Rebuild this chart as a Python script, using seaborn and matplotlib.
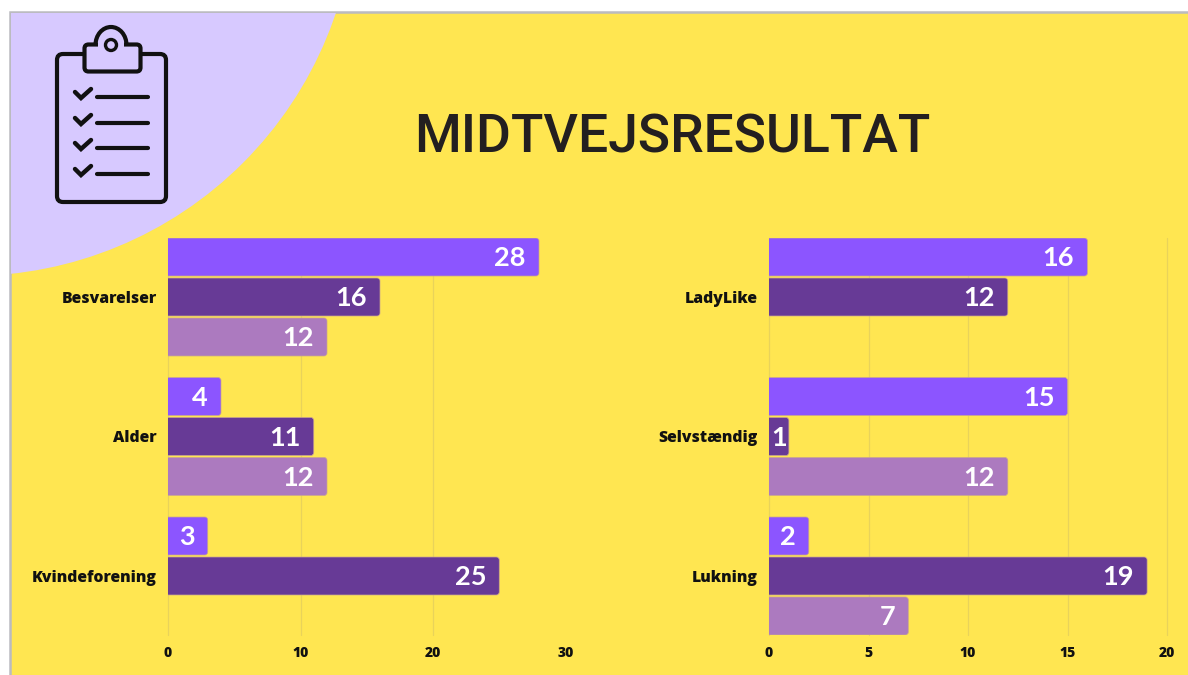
import matplotlib
matplotlib.use("Agg")
import matplotlib.pyplot as plt
import pandas as pd
import seaborn as sns
from matplotlib.patches import Arc, Circle, FancyBboxPatch, Rectangle

W, H = 1188, 675

# data (0 = no bar drawn)
left_categories = ["Besvarelser", "Alder", "Kvindeforening"]
left_first = [28, 4, 3]
left_second = [16, 11, 25]
left_third = [12, 12, 0]

right_categories = ["LadyLike", "Selvstændig", "Lukning"]
right_first = [16, 15, 2]
right_second = [12, 1, 19]
right_third = [0, 12, 7]

series_names = ["first", "second", "third"]
left_ticks = [0, 10, 20, 30]
right_ticks = [0, 5, 10, 15, 20]

YELLOW = "#FFE651"
LAVENDER = "#D7C9FF"
INK = "#111111"
palette = ["#8C55FF", "#673A96", "#AC7ABF"]

sns.set_theme(style="white")
plt.rcParams["font.family"] = ["Open Sans", "DejaVu Sans"]


def long_table(categories, first, second, third):
    frames = []
    for name, values in zip(series_names, [first, second, third]):
        frames.append(pd.DataFrame({"category": categories, "series": name, "value": values}))
    return pd.concat(frames)


def axes_box(x0, x1, y0=238, y1=635):
    return [x0 / W, 1 - y1 / H, (x1 - x0) / W, (y1 - y0) / H]


def bar_panel(fig, box, data, ticks, grid_skip_last):
    ax = fig.add_axes(box)
    ax.patch.set_alpha(0)
    sns.barplot(data=data, y="category", x="value", hue="series", palette=palette, width=0.86,
                gap=0.05, saturation=1, legend=False, ax=ax, zorder=3)
    ax.set_xlim(ticks[0], ticks[-1])
    ax.set_ylim(2.423, -0.423)
    ax.set_xlabel("")
    ax.set_ylabel("")
    ax.set_xticks(ticks)
    sns.despine(ax=ax, left=True, bottom=True)
    ax.grid(False)
    grid_ticks = ticks[:-1] if grid_skip_last else ticks
    for t in grid_ticks:
        ax.axvline(t, color="#E9D35A", lw=0.9, zorder=1, clip_on=False)

    px_x = box[2] * W / (ticks[-1] - ticks[0])
    px_y = box[3] * H / 2.846
    for container in ax.containers:
        labels = [f"{v:.0f}" if v > 0 else "" for v in container.datavalues]
        texts = ax.bar_label(container, labels=labels, padding=-8, color="white", fontsize=19.5,
                             fontweight="bold", family="Lato", zorder=5)
        for t, v in zip(texts, container.datavalues):
            if v * px_x < 25:
                # too narrow for an inside-end label, centre it on the bar
                t.set_ha("center")
                t.xyann = (-v * px_x / 2 * 0.72, -1)
            else:
                t.set_ha("right")
                t.xyann = (-9.5, -1)
        # swap the square bars for ones with small rounded right corners
        for bar in container:
            bar.set_visible(False)
            w = bar.get_width()
            if w <= 0:
                continue
            r = 3 / px_x
            ax.add_patch(FancyBboxPatch(
                (0, bar.get_y() + 3 / px_y), w - r, bar.get_height() - 6 / px_y,
                boxstyle=f"round,pad={r},rounding_size={r}", mutation_aspect=px_x / px_y,
                facecolor=bar.get_facecolor(), edgecolor="#C9A58F", lw=0.5, zorder=3))

    ax.tick_params(axis="both", length=0)
    ax.tick_params(axis="x", pad=8)
    ax.tick_params(axis="y", pad=8)
    for label in ax.get_xticklabels():
        label.set_fontweight("heavy")
        label.set_fontsize(10)
        label.set_color(INK)
    for label in ax.get_yticklabels():
        label.set_fontweight("heavy")
        label.set_fontsize(11.3)
        label.set_color(INK)
    return ax


fig = plt.figure(figsize=(W / 100, H / 100), dpi=100, facecolor="white")

# background panel, in pixel coordinates
bg = fig.add_axes([0, 0, 1, 1], zorder=-1)
bg.set_xlim(0, W)
bg.set_ylim(H, 0)
bg.axis("off")
panel = Rectangle((10, 12), W + 10, H + 10, facecolor=YELLOW, edgecolor="#BBBBC0", lw=1.8)
bg.add_patch(panel)
corner = Circle((-30, -110), 386, facecolor=LAVENDER, edgecolor="none")
bg.add_patch(corner)
corner.set_clip_path(Rectangle((11, 13), W, H, transform=bg.transData))

# clipboard icon
lw = 3.0
bg.add_patch(FancyBboxPatch((62, 59), 99, 138, boxstyle="round,pad=5,rounding_size=6",
                            facecolor="none", edgecolor=INK, lw=lw))
bg.add_patch(FancyBboxPatch((87, 47), 51, 22, boxstyle="round,pad=2.5,rounding_size=4",
                            facecolor=LAVENDER, edgecolor=INK, lw=lw))
bg.add_patch(Rectangle((98, 42), 26, 8, facecolor=LAVENDER, edgecolor="none", zorder=3))
bg.add_patch(Arc((111, 45), 31, 36, theta1=180, theta2=360, edgecolor=INK, lw=lw, zorder=4))
bg.add_patch(Circle((111, 45), 5.5, facecolor="none", edgecolor=INK, lw=2.4, zorder=4))
for y in [97, 123, 148, 174]:
    bg.plot([97, 148], [y, y], color=INK, lw=3, solid_capstyle="round")
    bg.plot([75, 81, 91], [y - 5, y + 1, y - 8], color=INK, lw=3.2, solid_joinstyle="miter")

bg.text(672, 138, "MIDTVEJSRESULTAT", ha="center", va="center", color="#231F20",
        fontsize=38.5, family="Roboto", fontweight="medium")

bar_panel(fig, axes_box(168, 565.5), long_table(left_categories, left_first, left_second, left_third),
          left_ticks, True)
bar_panel(fig, axes_box(769, 1167), long_table(right_categories, right_first, right_second, right_third),
          right_ticks, False)

fig.savefig("out.png", dpi=100, facecolor="white")
